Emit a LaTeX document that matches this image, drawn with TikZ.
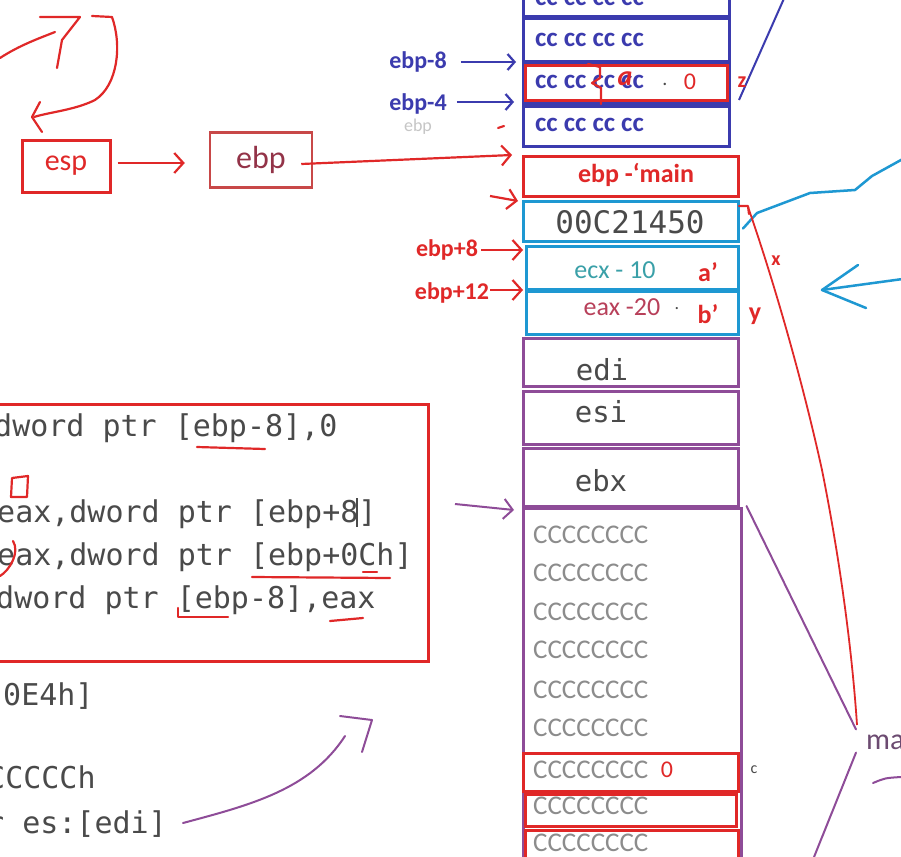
\documentclass[tikz,border=0pt]{standalone}
\usepackage{fontspec}
\setmainfont{Carlito}
\newfontfamily\monof{DejaVu Sans Mono}
\usetikzlibrary{arrows.meta}
\definecolor{navy}{HTML}{3B3BAE}
\definecolor{rd}{HTML}{E02828}
\definecolor{dred}{HTML}{C84848}
\definecolor{cy}{HTML}{1E98D2}
\definecolor{pu}{HTML}{8E4C98}
\definecolor{gtx}{HTML}{4A4A4A}
\definecolor{lgtx}{HTML}{8C8C8C}
\definecolor{tealx}{HTML}{3AA0A8}
\definecolor{eaxc}{HTML}{B8405A}
\begin{document}
\begin{tikzpicture}[x=1pt,y=-1pt,
  cell/.style={draw,inner sep=0pt,anchor=north west},
  nav/.style={cell,navy,line width=3pt},
  redc/.style={cell,rd,line width=2.5pt},
  cyc/.style={cell,cy,line width=3pt},
  puc/.style={cell,pu,line width=2.5pt},
  navtxt/.style={navy,font=\bfseries\fontsize{27}{29}\selectfont,anchor=west,inner sep=0pt},
  navlab/.style={navy,font=\bfseries\fontsize{24}{26}\selectfont,inner sep=0pt},
  rdlab/.style={rd,font=\bfseries\fontsize{24}{26}\selectfont,inner sep=0pt},
  code/.style={gtx,font=\monof\fontsize{30}{32}\selectfont,anchor=base west,inner sep=0pt},
  regt/.style={gtx,font=\monof\fontsize{29}{31}\selectfont,inner sep=0pt},
  cct/.style={lgtx,font=\fontsize{27}{29}\selectfont,anchor=west,inner sep=0pt},
  navarrow/.style={navy,line width=2.2pt,-{Straight Barb[length=7pt,width=16pt]}},
  rdarrow/.style={rd,line width=2.2pt,-{Straight Barb[length=9pt,width=20pt]}},
  rdline/.style={rd,line width=2.2pt,line cap=round,line join=round},
  puline/.style={pu,line width=2pt,line cap=round,line join=round},
  cyline/.style={cy,line width=2.5pt,line cap=round,line join=round}]
\clip (0,0) rectangle (901,856);
\fill[white] (0,0) rectangle (901,856);

% ---------- stack ----------
\node[nav,minimum width=206pt,minimum height=35pt] (b1) at (522,-20) {};
\node[nav,minimum width=206pt,minimum height=43pt] (b2) at (522,17) {};
\node[nav,minimum width=206pt,minimum height=40pt] (b3) at (522,62) {};
\node[redc,minimum width=202pt,minimum height=35pt] (bz) at (524,64.5) {};
\node[nav,minimum width=206pt,minimum height=40pt] (b4) at (522,105) {};
\node[redc,minimum width=215pt,minimum height=40pt] (main) at (522,155) {};
\node[cyc,minimum width=215pt,minimum height=40pt] (ret) at (522,200) {};
\node[cyc,minimum width=212pt,minimum height=43pt] (pa) at (525,245) {};
\node[cyc,minimum width=212pt,minimum height=43pt] (pb) at (525,290) {};
\node[puc,minimum width=215pt,minimum height=48pt] (edi) at (522,337) {};
\node[puc,minimum width=215pt,minimum height=53pt] (esi) at (522,390) {};
\node[puc,minimum width=215pt,minimum height=58pt] (ebx) at (522,447) {};
\node[puc,minimum width=218pt,minimum height=370pt] (buf) at (522,507) {};
\node[redc,minimum width=215pt,minimum height=38pt] (c1) at (522,752) {};
\node[redc,minimum width=211pt,minimum height=32pt] (c2) at (524,793) {};
\node[redc,minimum width=213pt,minimum height=40pt] (c3) at (524,829) {};

\node[navtxt] (t1) at (535,-1) {cc cc cc cc};
\node[navtxt] (t2) at (535,40) {cc cc cc cc};
\node[navtxt] (t3) at (535,82) {cc cc cc cc};
\node[gtx,font=\fontsize{20}{22}\selectfont] (t3d) at (665,84) {.};
\node[rd,font=\fontsize{24}{26}\selectfont] (t3z) at (690,82) {0};
\node[rd,font=\bfseries\itshape\fontsize{28}{30}\selectfont] (t3a) at (625,79) {a};
\draw[rdline] (588,64) -- (600,67) -- (600,78) -- (592,83) -- (601,88) -- (601,104);
\node[navtxt] (t4) at (535,125) {cc cc cc cc};
\node[rdlab,font=\bfseries\fontsize{26}{28}\selectfont] (tmain) at (636,175) {ebp -`main};
\node[gtx,font=\monof\fontsize{31}{33}\selectfont] (tret) at (630,222) {00C21450};
\node[tealx,font=\fontsize{26}{28}\selectfont] (tecx) at (615,270) {ecx - 10};
\node[rdlab,font=\bfseries\fontsize{26}{28}\selectfont] (tap) at (708,272) {a'};
\node[eaxc,font=\fontsize{26}{28}\selectfont] (teax) at (622,307) {eax -20};
\node[gtx,font=\fontsize{18}{20}\selectfont] (teaxd) at (677,309) {.};
\node[rdlab,font=\bfseries\fontsize{26}{28}\selectfont] (tbp) at (708,314) {b'};
\node[regt] (tedi) at (602,370) {edi};
\node[regt] (tesi) at (601,412) {esi};
\node[regt] (tebx) at (601,481) {ebx};
\foreach \yy/\nm in {535/k1,573/k2,612/k3,650/k4,690/k5,728/k6,770/k7,806/k8,843/k9}
  \node[cct] (\nm) at (533,\yy) {CCCCCCCC};
\node[rd,font=\fontsize{24}{26}\selectfont] (c1z) at (667,770) {0};
\node[gtx,font=\fontsize{16}{18}\selectfont] (cc) at (754,770) {c};

% ---------- left labels ----------
\node[navlab] (l8) at (418,62) {ebp-8};
\node[navlab] (l4) at (418,104) {ebp-4};
\node[lgtx!50,font=\fontsize{18}{20}\selectfont] (lg) at (418,127) {ebp};
\draw[navarrow] ([xshift=14pt]l8.east) -- ([xshift=-6pt]l8.east -| b3.west);
\draw[navarrow] ([xshift=10pt,yshift=2pt]l4.east) -- ([xshift=-8pt,yshift=2pt]l4.east -| b3.west);
\draw[rdline] (498,128) -- (504,126);

\node[draw=rd,line width=3pt,minimum width=88pt,minimum height=52pt,rd,font=\fontsize{30}{32}\selectfont] (esp) at (66,166) {esp};
\node[draw=dred,line width=2.5pt,minimum width=102pt,minimum height=55pt,text=eaxc!80!black,font=\fontsize{32}{34}\selectfont] (ebpb) at (261,160) {ebp};
\draw[rdarrow] ([xshift=6pt,yshift=3pt]esp.east) -- ([xshift=-24pt,yshift=3pt]esp.east -| ebpb.west);
\draw[rdarrow] ([xshift=-12pt,yshift=-4pt]ebpb.east) -- ([xshift=-10pt]main.north west);
\coordinate (r0) at (490,196);
\draw[rdarrow] (r0) -- ([xshift=-4pt,yshift=-1pt]ret.north west);
\node[rdlab] (p8) at (447,250) {ebp+8};
\node[rdlab] (p12) at (452,293) {ebp+12};
\draw[rdarrow] ([xshift=3pt]p8.east) -- ([xshift=-2pt]p8.east -| pa.west);
\draw[rdarrow] ([xshift=1pt,yshift=3pt]p12.east) -- ([xshift=-2pt,yshift=3pt]p12.east -| pb.west);

% ---------- right side ----------
\coordinate (zt) at (786,-6);
\draw[navy,line width=2pt] ([xshift=8pt,yshift=5pt]b4.north east) -- (zt);
\node[rd,font=\bfseries\fontsize{22}{24}\selectfont] (zl) at (742,82) {z};
\coordinate (cyend) at (910,155);
\draw[cyline] ([xshift=3pt,yshift=-7pt]ret.east) -- (757,213) -- (810,193) -- (855,190) -- (872,176) -- (cyend);
\coordinate (cya) at (822,290);
\coordinate (cyb) at (910,278);
\draw[cyline] (cyb) -- (cya);
\draw[cyline] (858,265) -- (cya) -- (866,308);
\draw[rdline] (739,206) -- (748,206) -- (749,214);
\draw[rd,line width=1.8pt] (748,207) .. controls (770,270) and (800,370) .. (822,470) .. controls (840,560) and (852,650) .. (857,725);
\node[rd,font=\bfseries\fontsize{20}{22}\selectfont] (xl) at (776,261) {x};
\node[rd,font=\bfseries\fontsize{26}{28}\selectfont] (yl) at (755,316) {y};
\node[text=pu!50!gtx,font=\fontsize{30}{32}\selectfont,anchor=west,inner sep=0pt] (ma) at (866,742) {ma};
\draw[puline] ([xshift=4pt,yshift=1pt]buf.north east) -- ([xshift=-10pt,yshift=5pt]ma.north west);
\coordinate (pbot) at (812,862);
\draw[puline] ([xshift=-10pt,yshift=-3pt]ma.south west) -- (pbot);
\draw[puline] (873,783) .. controls (885,778) .. (901,777);

% ---------- code ----------
\node[draw=rd,line width=2.5pt,cell,minimum width=435pt,minimum height=257pt] (codebox) at (-8,403) {};
\node[code] (cl1) at (-6,436) {dword ptr [ebp-8],0};
\node[code] (cl3) at (-3,522) {eax,dword ptr [ebp+8]};
\node[code] (cl4) at (-3,565) {eax,dword ptr [ebp+0Ch]};
\node[code] (cl5) at (-4,608) {dword ptr [ebp-8],eax};
\node[code] (cl6) at (3,705) {0E4h]};
\node[code] (cl7) at (-13,788) {CCCCCh};
\node[code] (cl8) at (-14,833) {r es:[edi]};
\draw[gtx,line width=1.5pt] (357,498) -- (357,527);
\draw[rdline] (197,447) -- (265,449);
\draw[rdline] (252,577) -- (390,578);
\draw[rdline] (363,572) -- (377,572);
\draw[rdline] (178,608) -- (178,617) -- (228,617);
\draw[rdline] (330,621) -- (363,618);
\draw[rdline] (12,478) -- (28,476) -- (27,497) -- (11,497) -- cycle;
\draw[rdline] (13,541) .. controls (20,552) and (10,570) .. (0,576);

% purple arrows
\coordinate (pa0) at (455,504);
\draw[pu,line width=2pt,-{Straight Barb[length=9pt,width=20pt]}] (pa0) -- ([xshift=-8pt,yshift=-3pt]buf.north west);
\coordinate (pc0) at (183,823);
\coordinate (pc1) at (345,736);
\draw[puline] (pc0) .. controls (250,805) and (310,790) .. (pc1);
\draw[puline] (340,716) -- (372,720) -- (362,752);

% red top-left scribbles
\draw[rdline] (0,58) .. controls (20,45) and (40,38) .. (55,32);
\draw[rdline] (40,17) -- (80,17) -- (62,40) -- (57,68);
\draw[rdline] (92,16) -- (112,17) .. controls (122,45) and (118,85) .. (95,100) .. controls (75,110) and (50,112) .. (34,117);
\draw[rdline] (40,102) -- (32,117) -- (42,132);
\end{tikzpicture}
\end{document}
